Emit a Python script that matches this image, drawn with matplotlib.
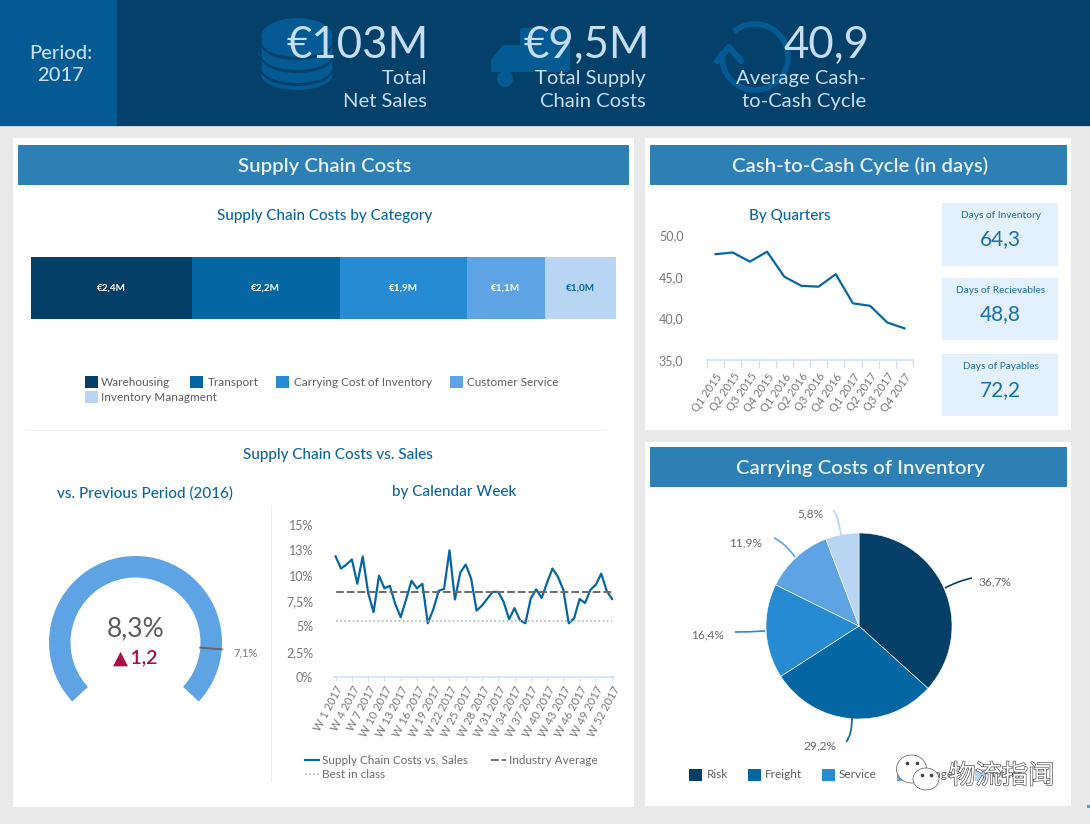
import math
import matplotlib
matplotlib.use("Agg")
import matplotlib.pyplot as plt
from matplotlib.patches import Rectangle, Ellipse, Circle, Arc, Wedge, Polygon, FancyBboxPatch, PathPatch
from matplotlib.path import Path
import matplotlib.patheffects as pe

plt.rcParams['font.family'] = ['Lato', 'DejaVu Sans']

# ---- data ----
kpi_values = ["€103M", "€9,5M", "40,9"]
kpi_labels = [["Total", "Net Sales"], ["Total Supply", "Chain Costs"], ["Average Cash-", "to-Cash Cycle"]]

cost_categories = ["Warehousing", "Transport", "Carrying Cost of Inventory", "Customer Service", "Inventory Managment"]
cost_values = [2.37, 2.17, 1.87, 1.14, 1.04]

gauge_value = 8.3
gauge_target = 7.1
gauge_delta = 1.2

week_labels = [f"W {w} 2017" for w in range(1, 53, 3)]
week_numbers = list(range(1, 53))
week_values = [11.9, 10.7, 11.1, 11.6, 9.2, 11.9, 8.3, 6.4, 10.0, 8.75, 9.0, 7.2, 5.9, 7.65, 9.5, 8.75, 9.2, 5.3,
               6.65, 8.5, 8.7, 12.5, 7.65, 10.3, 11.1, 9.7, 6.55, 7.05, 7.75, 8.4, 8.4, 7.4, 5.7, 6.8, 5.6, 5.3,
               7.75, 8.65, 7.8, 9.3, 10.7, 9.9, 8.6, 5.3, 5.8, 7.7, 7.3, 8.6, 9.1, 10.2, 8.5, 7.7]
industry_average = 8.35
best_in_class = 5.5
week_yticks = [0, 2.5, 5, 7.5, 10, 12.5, 15]
week_yticklabels = ["0%", "2,5%", "5%", "7,5%", "10%", "13%", "15%"]

quarters = ["Q1 2015", "Q2 2015", "Q3 2015", "Q4 2015", "Q1 2016", "Q2 2016", "Q3 2016", "Q4 2016",
            "Q1 2017", "Q2 2017", "Q3 2017", "Q4 2017"]
quarter_values = [47.7, 47.9, 46.8, 48.0, 45.0, 43.9, 43.8, 45.3, 41.8, 41.5, 39.5, 38.8]
quarter_yticks = [35, 40, 45, 50]

card_labels = ["Days of Inventory", "Days of Recievables", "Days of Payables"]
card_values = ["64,3", "48,8", "72,2"]

pie_labels = ["Risk", "Freight", "Service", "Storage", "Other"]
pie_values = [36.7, 29.2, 16.4, 11.9, 5.8]

# ---- style ----
W, H = 1090, 824
NAVY, BLUE, MID, LIGHT, PALE = "#033f66", "#0566a4", "#268bd2", "#5ea3e4", "#b8d5f3"
PALETTE = [NAVY, BLUE, MID, LIGHT, PALE]
HEAD = "#03406a"; HEAD2 = "#045a92"; BAR = "#2e80b4"; SUB = "#0a659f"; GREY = "#5c5c5c"
TXT = "#c6ddf3"; AXISC = "#cfe0f6"


def comma(v, d=1):
    return f"{v:.{d}f}".replace(".", ",")


fig = plt.figure(figsize=(W / 100, H / 100), dpi=100, facecolor="#e9e9e9")


def px_axes(x0, y0, x1, y1, **kw):
    return fig.add_axes([x0 / W, 1 - y1 / H, (x1 - x0) / W, (y1 - y0) / H], **kw)


bg = px_axes(0, 0, W, H, zorder=0)
bg.set_xlim(0, W); bg.set_ylim(H, 0); bg.axis("off")
top = px_axes(0, 0, W, H, zorder=6)
top.set_xlim(0, W); top.set_ylim(H, 0); top.axis("off"); top.patch.set_alpha(0)


def rect(x0, y0, x1, y1, c, ax=bg, **kw):
    ax.add_patch(Rectangle((x0, y0), x1 - x0, y1 - y0, fc=c, ec="none", **kw))


# header
rect(0, 0, W, 126, HEAD)
rect(0, 0, 117, 126, HEAD2)
rect(0, 126, W, 127, "#c4d5e2")
bg.text(61, 53, "Period:", color=TXT, fontsize=14.5, ha="center", va="center", fontweight="medium")
bg.text(61, 75, "2017", color=TXT, fontsize=14.5, ha="center", va="center", fontweight="medium")

# header icons
for cy in (75, 62, 49):
    bg.add_patch(Ellipse((297, cy), 71, 30, fc=HEAD2, ec="none"))
    bg.add_patch(Ellipse((297, cy - 4), 71, 30, fc=HEAD, ec="none"))
    bg.add_patch(Ellipse((297, cy - 7), 71, 30, fc=HEAD2, ec="none"))
bg.add_patch(Ellipse((297, 36), 71, 36, fc=HEAD2, ec="none"))
bg.add_patch(FancyBboxPatch((520, 28), 50, 44, boxstyle="round,pad=0,rounding_size=3", fc=HEAD2, ec="none"))
bg.add_patch(Polygon([(491, 72), (491, 60), (503, 45), (522, 45), (522, 72)], fc=HEAD2, ec="none"))
bg.add_patch(Circle((505, 79), 8, fc=HEAD2, ec="none"))
bg.add_patch(Arc((755, 57), 66, 66, angle=0, theta1=-130, theta2=190, ec=HEAD2, lw=4))
bg.plot([717, 729, 741], [61, 47, 61], color=HEAD2, lw=4.5, solid_capstyle="round", solid_joinstyle="round")

for val, lines, xv, xl in zip(kpi_values, kpi_labels, (429, 650, 869), (427, 646, 866)):
    bg.text(xv, 45, val, color=TXT, fontsize=31.5, ha="right", va="center", fontweight="normal", zorder=4)
    for ln, yy in zip(lines, (78, 101)):
        bg.text(xl, yy, ln, color=TXT, fontsize=14.6, ha="right", va="center", zorder=4)

# panels
rect(13, 138, 634, 807, "white")
rect(645, 138, 1071, 430, "white")
rect(645, 442, 1071, 806, "white")
rect(18, 145, 629, 185, BAR)
rect(650, 145, 1067, 185, BAR)
rect(650, 447, 1067, 487, BAR)
for t, cx, cy in (("Supply Chain Costs", 325, 166), ("Cash-to-Cash Cycle (in days)", 860, 166),
                  ("Carrying Costs of Inventory", 860, 468)):
    bg.text(cx, cy, t, color="#e8f1f8", fontsize=14.7, ha="center", va="center", fontweight="semibold")
for t, cx, cy in (("Supply Chain Costs by Category", 325, 216), ("Supply Chain Costs vs. Sales", 338, 455),
                  ("vs. Previous Period (2016)", 145, 493), ("by Calendar Week", 454, 492),
                  ("By Quarters", 790, 216)):
    bg.text(cx, cy, t, color=SUB, fontsize=11, ha="center", va="center", fontweight="medium")
rect(25, 430, 607, 431, "#f0f0f0")
rect(271, 505, 272, 782, "#ececec")

# stacked bar
ax = px_axes(30.5, 257, 615.5, 319, zorder=2)
left = 0
for i, (v, c) in enumerate(zip(cost_values, PALETTE)):
    ax.barh(0, v, left=left, height=1, color=c, edgecolor="none")
    ax.text(left + v / 2, 0, f"€{comma(v)}M", ha="center", va="center", fontsize=7.2, fontweight="bold",
            color=BLUE if i == 4 else "white")
    left += v
ax.set_xlim(0, left); ax.set_ylim(-0.5, 0.5); ax.axis("off")

for lab, c, sx, tx, cy in zip(cost_categories, PALETTE, (85, 190, 276, 450, 85), (101, 208, 294, 467, 101),
                              (382, 382, 382, 382, 397)):
    rect(sx, cy - 6, sx + 12.5, cy + 6, c)
    bg.text(tx, cy + 0.5, lab, color=GREY, fontsize=8.45, ha="left", va="center")

# gauge
R = 86.5
ax = px_axes(135.5 - R, 642.5 - R, 135.5 + R, 642.5 + R, zorder=2)
ax.set_xlim(-R, R); ax.set_ylim(-R, R); ax.axis("off")
a0, a1 = 223.0, -43.0
ax.add_patch(Wedge((0, 0), R, a1, a0, width=21.5, fc=LIGHT, ec="none"))
ang = a0 + (a1 - a0) * gauge_target / gauge_value
ax.plot([65 * math.cos(math.radians(ang)), R * math.cos(math.radians(ang))],
        [65 * math.sin(math.radians(ang)), R * math.sin(math.radians(ang))], color="#666666", lw=1.4, clip_on=False)
bg.text(136, 629, f"{comma(gauge_value)}%", color=GREY, fontsize=19, ha="center", va="center")
bg.text(135.5, 658, f"▲\u2009{comma(gauge_delta)}", color="#a8123e", fontsize=14, ha="center", va="center", fontweight="semibold")
bg.text(246, 653, f"{comma(gauge_target)}%", color="#777777", fontsize=8, ha="center", va="center")


def style_line_axes(ax):
    for s in ("top", "left", "right"):
        ax.spines[s].set_visible(False)
    ax.spines["bottom"].set_color(AXISC)
    ax.spines["bottom"].set_linewidth(1.2)
    ax.patch.set_alpha(0)


# weekly line
ax = px_axes(334, 525, 614, 677, zorder=2)
xs = [w - 1 for w in week_numbers]
ax.plot(xs, week_values, color=BLUE, lw=1.6)
ax.hlines(industry_average, xs[0], xs[-1], color="#6b6b6b", lw=1.4, linestyles=(0, (4, 1.5)))
ax.hlines(best_in_class, xs[0], xs[-1], color="#b5b5b5", lw=1.2, linestyles=(0, (1, 1.5)))
ax.set_xlim(-0.3, 51.35); ax.set_ylim(0, 15)
style_line_axes(ax)
ax.set_yticks(week_yticks, week_yticklabels, color="#777777", fontsize=9)
ax.tick_params(axis="y", length=0, pad=15)
ax.set_xticks(xs[::3], week_labels, rotation=62, ha="right", rotation_mode="anchor", color="#777777", fontsize=8)
ax.tick_params(axis="x", length=3, width=0.9, color=AXISC, pad=2)

top.plot([305, 319], [760, 760], color=BLUE, lw=1.6)
top.plot([491, 506], [760, 760], color="#6b6b6b", lw=1.4, ls=(0, (4, 1.5)))
top.plot([305, 319], [774, 774], color="#b5b5b5", lw=1.2, ls=(0, (1, 1.5)))
for t, x, y in (("Supply Chain Costs vs. Sales", 322, 760), ("Industry Average", 509, 760), ("Best in class", 322, 774)):
    top.text(x, y, t, color="#6a6a6a", fontsize=8.5, ha="left", va="center")

# quarterly line
ax = px_axes(707, 235, 913, 360, zorder=2)
qx = list(range(len(quarters)))
ax.plot(qx, quarter_values, color=BLUE, lw=1.6)
ax.set_xlim(-0.5, len(quarters) - 0.5); ax.set_ylim(35, 50)
style_line_axes(ax)
ax.set_yticks(quarter_yticks, [comma(v) for v in quarter_yticks], color="#777777", fontsize=9)
ax.tick_params(axis="y", length=0, pad=17)
ax.set_xticks(qx, quarters, rotation=55, ha="right", rotation_mode="anchor", color="#777777", fontsize=8)
ax.tick_params(axis="x", length=0, pad=8)
ax.set_xticks([q - 0.5 for q in range(len(quarters) + 1)], minor=True)
ax.tick_params(axis="x", which="minor", length=6, width=0.9, color=AXISC)

# cards
for lab, val, (y0, y1) in zip(card_labels, card_values, ((203, 266), (278, 340), (354, 416))):
    rect(942, y0, 1058, y1, "#e3f0fd")
    bg.text(1001, y0 + 12.5, lab, color="#2a74a8", fontsize=7.3, ha="center", va="center", fontweight="medium")
    bg.text(1000, y0 + 36.5, val, color="#1a6fa8", fontsize=15, ha="center", va="center")

# pie
PR = 93
ax = px_axes(859 - PR, 626 - PR, 859 + PR, 626 + PR, zorder=2)
ax.pie(pie_values, colors=PALETTE, startangle=90, counterclock=False, radius=1,
       wedgeprops=dict(edgecolor="white", linewidth=0.4))
ax.set_xlim(-1, 1); ax.set_ylim(-1, 1)

leaders = [((945, 588), (958, 581), (972, 578)), ((852, 718), (852, 735), (846, 742)),
           ((765, 631), (750, 632), (735, 632)), ((795, 557), (785, 543), (774, 538)),
           ((841, 535), (838, 515), (833, 510))]
pie_label_pos = [(995, 582), (820, 746), (708, 635), (746, 543), (810, 514)]
for v, c, l, (lx, ly) in zip(pie_values, PALETTE, leaders, pie_label_pos):
    top.add_patch(PathPatch(Path(l, [Path.MOVETO, Path.CURVE3, Path.CURVE3]), fc="none", ec=c, lw=1.2))
    top.text(lx, ly, f"{comma(v)}%", color="#666666", fontsize=8.6, ha="center", va="center")

for lab, c, sx, tx in zip(pie_labels, PALETTE, (689, 748, 822, 897, 975), (707, 765, 839, 914, 992)):
    rect(sx, 769, sx + 12.5, 781, c)
    bg.text(tx, 775, lab, color=GREY, fontsize=8.45, ha="left", va="center")

# watermark
for (cx, cy, rx, ry) in ((911.5, 769, 30, 28), (926, 779, 26, 22)):
    top.add_patch(Ellipse((cx, cy), rx, ry, fc="white", ec="#555555", lw=0.5, zorder=5))
for (x, y) in ((907, 763), (917, 763), (922, 775), (931, 775)):
    top.plot([x], [y], "o", ms=1.6, color="#444444", zorder=6)
top.text(949, 776, "物流指闻", family=['Noto Sans CJK SC', 'DejaVu Sans'], fontsize=19, color="white", ha="left", va="center",
         zorder=6, path_effects=[pe.Stroke(linewidth=0.9, foreground="#444444"), pe.Normal()])
rect(1087, 805, 1090, 808, "#4aa3e8", ax=top)

fig.savefig("out.png", dpi=100, facecolor=fig.get_facecolor())
